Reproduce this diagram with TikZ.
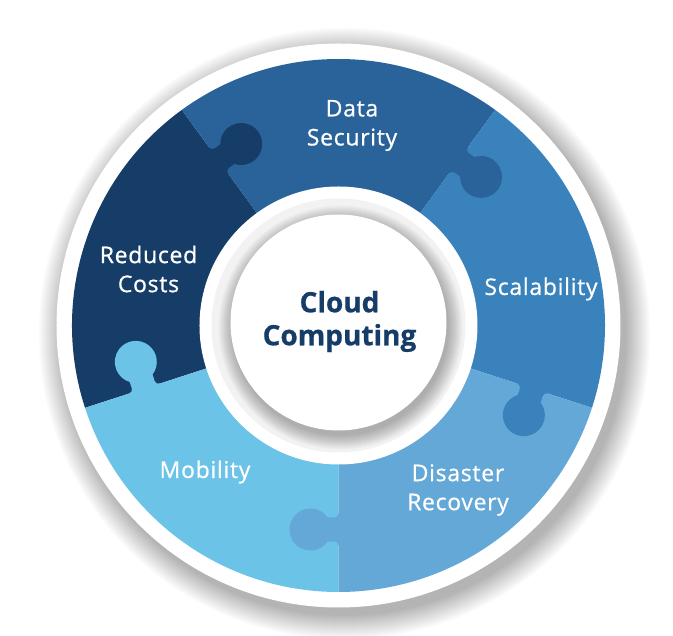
\documentclass[tikz,border=0pt]{standalone}
\usepackage{fontspec}
\setmainfont{Open Sans}
\usepackage{tikz}
\definecolor{cost}{HTML}{163C68}
\definecolor{secu}{HTML}{2A6399}
\definecolor{scal}{HTML}{3A82BB}
\definecolor{disa}{HTML}{63A8D6}
\definecolor{mobi}{HTML}{6CC3E8}
\newcommand{\knobpath}{(188,0.6) -- (188,0) arc[start angle=90,end angle=0,radius=4]
  -- (192,-10.8) arc[start angle=124.9,end angle=415.1,radius=21]
  -- (216,-4) arc[start angle=180,end angle=90,radius=4] -- (220,0.6) -- cycle}
\begin{document}
\begin{tikzpicture}[x=1pt,y=1pt,
  lbl/.style={text=white,align=center,
    font=\fontsize{23}{29}\selectfont\addfontfeatures{FakeBold=0.7,LetterSpace=3}},
  hub/.style={text=cost,align=center,
    font=\bfseries\fontsize{28}{33}\selectfont\addfontfeatures{FakeBold=0.6}}]
  \useasboundingbox (-338.5,-310.5) rectangle (334.5,325.5);
  \fill[white] (-338.5,-310.5) rectangle (334.5,325.5);

  \foreach \r in {0,...,24}
    \fill[black,opacity=0.012] (6,-8) circle (282+\r);
  \fill[white] (0,0) circle (282);

  \foreach \a/\c in {126/cost,54/secu,-18/scal,-90/disa,198/mobi}
    \fill[\c] (0,0) -- (\a:266.5) arc[start angle=\a,end angle=\a+72,radius=266.5] -- cycle;
  \foreach \a/\c in {126/cost,54/secu,-18/scal,-90/disa,198/mobi}
    \fill[\c,rotate=\a] \knobpath;

  \fill[white] (0,0) circle (139);
  \fill[gray!10] (0,0) circle (127);
  \foreach \r in {0,...,14}
    \fill[black,opacity=0.02] (2,-2) circle (108+\r);
  \fill[white] (0,3) circle (108);

  \node[lbl] (data) at (13.5,200) {Data\\Security};
  \node[lbl] (costs) at (-190,56.5) {Reduced\\Costs};
  \node[lbl] (scala) at (202.5,36.5) {Scalability};
  \node[lbl] (mobil) at (-133.5,-146.5) {Mobility};
  \node[lbl] (disas) at (119.5,-164.5) {Disaster\\Recovery};
  \node[hub] (cloud) at (1,4) {Cloud\\Computing};
\end{tikzpicture}
\end{document}
